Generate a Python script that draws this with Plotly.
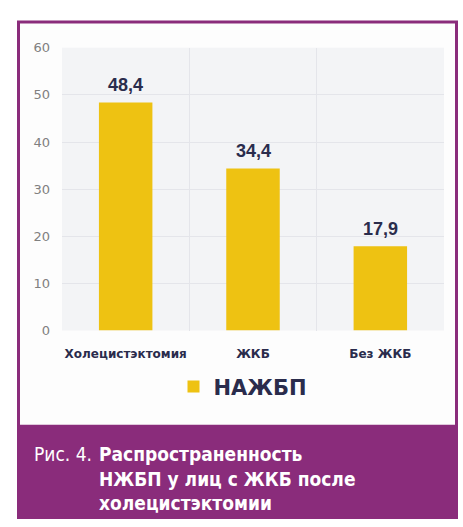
import plotly.graph_objects as go

categories = ["Холецистэктомия", "ЖКБ", "Без ЖКБ"]
values = [48.4, 34.4, 17.9]
value_labels = ["48,4", "34,4", "17,9"]
series_name = "НАЖБП"
y_ticks = [0, 10, 20, 30, 40, 50, 60]

W, H = 463, 527
PURPLE = "#8a2c7b"
YELLOW = "#eec212"
NAVY = "#2a2c4c"

fig = go.Figure()
fig.add_trace(go.Bar(
    x=categories, y=values, name="<b>" + series_name + "</b>",
    marker=dict(color=YELLOW, line=dict(width=0)),
    width=0.42,
))

for c, v, t in zip(categories, values, value_labels):
    fig.add_annotation(x=c, y=v, text="<b>" + t + "</b>", showarrow=False,
                       yanchor="bottom", yshift=5, xref="x", yref="y",
                       font=dict(size=18, color=NAVY, family="Liberation Sans, Arial"))

def px(xp):
    return xp / W

def py(yp):
    return 1 - yp / H

PL, PR, PT, PB = 62, 444, 42, 333

shapes = [
    # purple outer frame
    dict(type="rect", xref="paper", yref="paper", x0=px(17), x1=px(458), y0=py(527), y1=py(14),
         fillcolor=PURPLE, line=dict(width=0), layer="below"),
    # white panel
    dict(type="rect", xref="paper", yref="paper", x0=px(20), x1=px(455), y0=py(430), y1=py(17),
         fillcolor="#fdfdfd", line=dict(width=0), layer="below"),
    # plot background
    dict(type="rect", xref="paper", yref="paper", x0=px(PL), x1=px(PR), y0=py(PB), y1=py(PT),
         fillcolor="#f3f4f6", line=dict(width=0), layer="below"),
]

caption_font = "DejaVu Sans Condensed"
annotations = [
    dict(xref="paper", yref="paper", x=px(32), y=py(447), xanchor="left", yanchor="top",
         text="Рис. 4.", showarrow=False, align="left",
         font=dict(size=19, color="white", family=caption_font)),
    dict(xref="paper", yref="paper", x=px(97), y=py(447), xanchor="left", yanchor="top",
         text="<b>Распространенность<br>НЖБП у лиц с ЖКБ после<br>холецистэктомии</b>",
         showarrow=False, align="left",
         font=dict(size=19, color="white", family=caption_font)),
]

fig.update_layout(
    width=W, height=H,
    margin=dict(l=0, r=0, t=0, b=0),
    paper_bgcolor="white",
    plot_bgcolor="rgba(0,0,0,0)",
    shapes=shapes,
    showlegend=True,
    legend=dict(orientation="h", x=px(243), xanchor="center", y=py(391), yanchor="middle",
                font=dict(size=21, color=NAVY, family="DejaVu Sans"),
                bgcolor="rgba(0,0,0,0)", itemwidth=30),
    xaxis=dict(domain=[px(PL), px(PR)], type="category", tickson="boundaries",
               showgrid=True, gridcolor="#e4e5ea", gridwidth=1, tickangle=0,
               ticks="", ticklabelstandoff=14, showline=False, zeroline=False,
               tickfont=dict(size=12, color=NAVY, family="DejaVu Sans"),
               ticktext=["<b>" + c + "</b>" for c in categories], tickvals=categories),
    yaxis=dict(domain=[py(PB), py(PT)], range=[0, 60], tickvals=y_ticks,
               showgrid=True, gridcolor="#e4e5ea", gridwidth=1, zeroline=False,
               ticks="", ticklabelstandoff=11,
               tickfont=dict(size=13, color="#808080", family="DejaVu Sans")),
    bargap=0.58,
)
for a in annotations:
    fig.add_annotation(**a)

fig.write_html("out.html")
